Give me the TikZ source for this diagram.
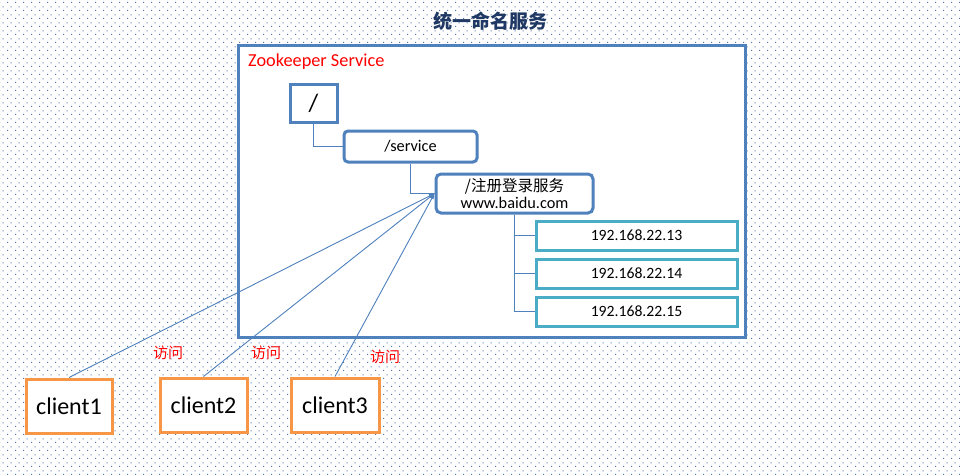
\documentclass[tikz,border=0pt]{standalone}
\usepackage{fontspec}
\setmainfont{Carlito}
\newfontfamily\cjk{Noto Sans CJK SC}
\usetikzlibrary{patterns}
\definecolor{boxblue}{HTML}{4F81BD}
\definecolor{ipteal}{HTML}{4BACC6}
\definecolor{clorange}{HTML}{F79646}
\definecolor{titlenavy}{HTML}{1F3864}
\definecolor{dotblue}{HTML}{4F75AD}
\pgfdeclarepatternformonly{bgdots}{\pgfpointorigin}{\pgfpoint{8pt}{8pt}}{\pgfpoint{8pt}{8pt}}{%
  \pgfpathrectangle{\pgfpoint{0pt}{0pt}}{\pgfpoint{1.2pt}{1.2pt}}%
  \pgfpathrectangle{\pgfpoint{4pt}{4pt}}{\pgfpoint{1.2pt}{1.2pt}}%
  \pgfusepath{fill}}
\tikzset{
  zkbox/.style={draw=boxblue,line width=3pt,fill=white,inner sep=0pt},
  znode/.style={draw=boxblue,line width=3pt,fill=white,inner sep=0pt,align=center,font=\fontsize{16.3}{19}\selectfont},
  ipnode/.style={draw=ipteal,line width=3pt,fill=white,inner sep=0pt,minimum width=201pt,minimum height=29pt,font=\fontsize{15.7}{18}\selectfont},
  clnode/.style={draw=clorange,line width=3pt,fill=white,inner sep=0pt,minimum height=54pt,font=\fontsize{24}{28}\selectfont},
  tree/.style={draw=boxblue,line width=1.1pt},
  visit/.style={draw=boxblue,line width=0.9pt,->},
  visitlbl/.style={text=red,font=\cjk\fontsize{15}{18}\selectfont},
}
\begin{document}
\begin{tikzpicture}[>=latex,x=1pt,y=-1pt]
  \useasboundingbox (0,0) rectangle (960,474);
  \fill[white] (0,0) rectangle (960,474);
  \fill[pattern=bgdots,pattern color=dotblue] (0,0) rectangle (960,474);
  % title
  \node[text=titlenavy,font=\cjk\bfseries\fontsize{19}{22}\selectfont] (title) at (490,21) {统一命名服务};
  % service frame
  \node[zkbox,minimum width=507pt,minimum height=292pt] (zk) at (491.5,191) {};
  \node[anchor=west,text=red,font=\fontsize{18.3}{22}\selectfont,inner sep=0pt] (zklbl) at (248,62) {Zookeeper Service};
  % znodes
  \node[znode,minimum width=47pt,minimum height=38pt,font=\fontsize{25}{28}\selectfont] (root) at (313.5,103) {/};
  \node[znode,rounded corners=4pt,minimum width=133pt,minimum height=31pt] (service) at (410.5,146.5) {/service};
  \node[znode,rounded corners=5pt,minimum width=157pt,minimum height=39pt] (reg) at (514.5,193.5)
    {{\cjk\fontsize{15.5}{18}\selectfont /注册登录服务}\\[-2pt]www.baidu.com};
  \node[ipnode] (ip13) at (636.5,235.5) {192.168.22.13};
  \node[ipnode] (ip14) at (636.5,273.5) {192.168.22.14};
  \node[ipnode] (ip15) at (636.5,311.5) {192.168.22.15};
  \draw[tree] (root.south) |- (service.west);
  \draw[tree] (service.south) |- (reg.west);
  \draw[tree] (reg.south) |- (ip13.west);
  \draw[tree] (reg.south) |- (ip14.west);
  \draw[tree] (reg.south) |- (ip15.west);
  % clients
  \node[clnode,minimum width=86pt] (client1) at (69,406) {client1};
  \node[clnode,minimum width=87pt] (client2) at (203.5,405) {client2};
  \node[clnode,minimum width=88pt] (client3) at (335,405) {client3};
  \draw[visit] (client1.north) -- (reg.west);
  \draw[visit] (client2.north) -- (reg.west);
  \draw[visit] (client3.north) -- (reg.west);
  \node[visitlbl] (v1) at (168,353) {访问};
  \node[visitlbl] (v2) at (266,353) {访问};
  \node[visitlbl] (v3) at (385,357) {访问};
\end{tikzpicture}
\end{document}
